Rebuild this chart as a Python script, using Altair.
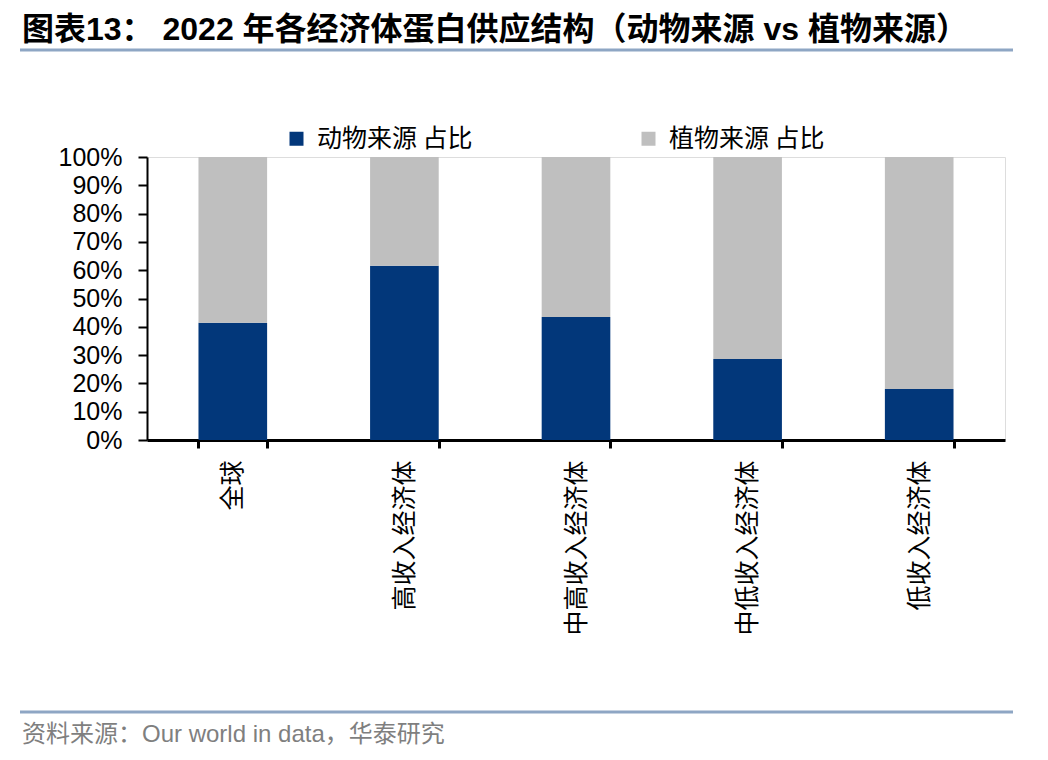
import altair as alt
import pandas as pd

# ---- data ----
categories = ["全球", "高收入经济体", "中高收入经济体", "中低收入经济体", "低收入经济体"]
series_names = ["动物来源 占比", "植物来源 占比"]
animal_share = [41.4, 61.6, 43.5, 28.6, 18.0]
plant_share = [58.6, 38.4, 56.5, 71.4, 82.0]
y_ticks = [0, 10, 20, 30, 40, 50, 60, 70, 80, 90, 100]
title_text = "图表13：  2022 年各经济体蛋白供应结构（动物来源 vs 植物来源）"
source_text = "资料来源：Our world in data，华泰研究"

colors = ["#02377A", "#BFBFBF"]
CJK = "Noto Sans CJK SC"
LAT = "Liberation Sans, Noto Sans CJK SC"

rows = []
for i, c in enumerate(categories):
    rows.append({"cat": c, "series": series_names[0], "val": animal_share[i], "ord": 0})
    rows.append({"cat": c, "series": series_names[1], "val": plant_share[i], "ord": 1})
df = pd.DataFrame(rows)

bars = alt.Chart(df).mark_bar().encode(
    x=alt.X("cat:N", sort=categories,
            scale=alt.Scale(paddingInner=0.6, paddingOuter=0.3),
            axis=alt.Axis(title=None, labelAngle=-90, labelFont=CJK, labelFontSize=25,
                          labelColor="black", labelPadding=12, domainColor="black",
                          domainWidth=3, tickColor="black", tickWidth=3, tickSize=8,
                          tickBand="extent", labelLimit=300)),
    y=alt.Y("val:Q", stack="zero", scale=alt.Scale(domain=[0, 100], nice=False),
            axis=alt.Axis(title=None, values=y_ticks, labelExpr="datum.value + '%'",
                          labelFont="Liberation Sans", labelFontSize=25, labelColor="black",
                          labelPadding=16, domainColor="black", domainWidth=2,
                          tickColor="black", tickWidth=2, tickSize=9, grid=False)),
    color=alt.Color("series:N", scale=alt.Scale(domain=series_names, range=colors),
                    legend=alt.Legend(title=None, orient="none", legendX=137, legendY=-31,
                                      direction="horizontal", symbolType="square",
                                      symbolSize=196, symbolStrokeWidth=0,
                                      labelFont=CJK, labelFontSize=25, labelColor="black",
                                      labelOffset=8, columnPadding=163, labelLimit=300)),
    order=alt.Order("ord:Q"),
)

title = alt.Chart(pd.DataFrame({"t": [title_text]})).mark_text(
    align="left", baseline="middle", font=LAT, fontSize=32, fontWeight="bold", color="black"
).encode(text="t:N", x=alt.value(-125), y=alt.value(-127))

source = alt.Chart(pd.DataFrame({"t": [source_text]})).mark_text(
    align="left", baseline="middle", font=LAT, fontSize=24, color="#7F7F7F"
).encode(text="t:N", x=alt.value(-125), y=alt.value(578))

rule_top = alt.Chart(pd.DataFrame({"a": [0]})).mark_rule(color="#8EA6C4", strokeWidth=3).encode(
    x=alt.value(-127), x2=alt.value(866), y=alt.value(-107))
rule_bot = alt.Chart(pd.DataFrame({"a": [0]})).mark_rule(color="#8EA6C4", strokeWidth=3).encode(
    x=alt.value(-127), x2=alt.value(866), y=alt.value(555))

chart = alt.layer(bars, title, source, rule_top, rule_bot).properties(
    width=858, height=283,
    autosize=alt.AutoSizeParams(type="none"),
    padding={"left": 139, "top": 149, "right": 28, "bottom": 310},
).configure_view(stroke=None).configure(background="white")

chart.save("out.html", embed_options={"renderer": "svg", "actions": False})
